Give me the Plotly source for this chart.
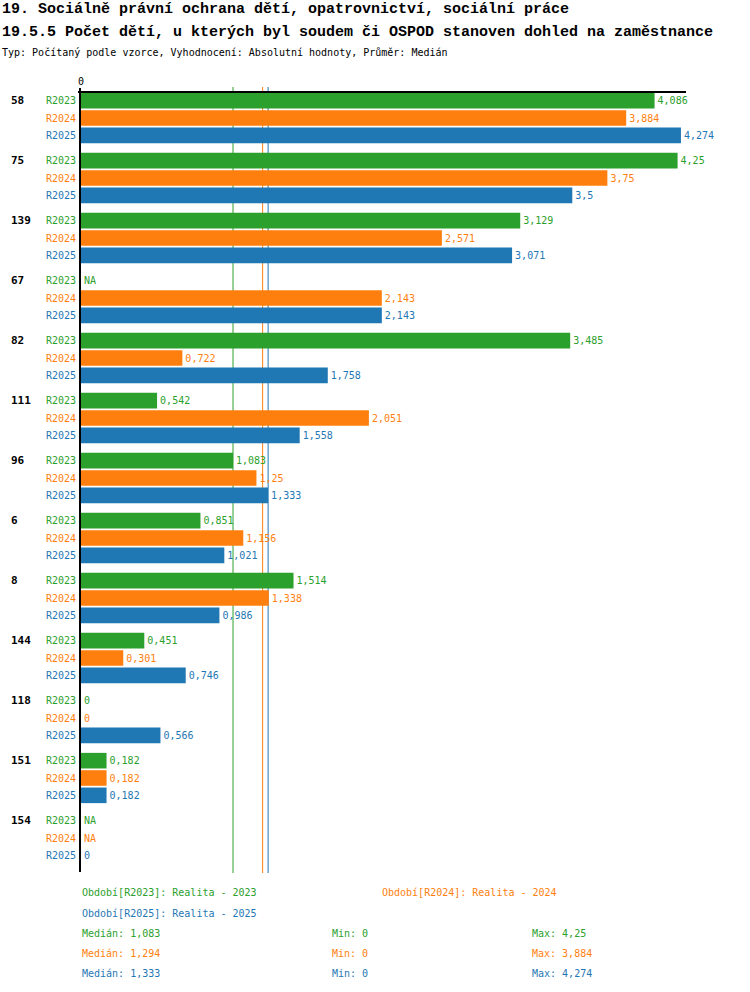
import numpy as np
import plotly.graph_objects as go

# data
categories = ["58", "75", "139", "67", "82", "111", "96", "6", "8", "144", "118", "151", "154"]
r2023 = [4.086, 4.25, 3.129, None, 3.485, 0.542, 1.083, 0.851, 1.514, 0.451, 0, 0.182, None]
r2024 = [3.884, 3.75, 2.571, 2.143, 0.722, 2.051, 1.25, 1.156, 1.338, 0.301, 0, 0.182, None]
r2025 = [4.274, 3.5, 3.071, 2.143, 1.758, 1.558, 1.333, 1.021, 0.986, 0.746, 0.566, 0.182, 0]
series_names = ["R2023", "R2024", "R2025"]
series_desc = ["Realita - 2023", "Realita - 2024", "Realita - 2025"]
colors = ["#2ca02c", "#ff7f0e", "#1f77b4"]

title1 = "19. Sociálně právní ochrana dětí, opatrovnictví, sociální práce"
title2 = "19.5.5 Počet dětí, u kterých byl soudem či OSPOD stanoven dohled na zaměstnance"
subtitle = "Typ: Počítaný podle vzorce, Vyhodnocení: Absolutní hodnoty, Průměr: Medián"

MONO = "DejaVu Sans Mono"
TITLE_FONT = "Liberation Mono"

# page geometry (pixels)
W, H = 750, 992
L, R = 81, 686
T, B = 88, 872


def px_y(p):
    return (B - p) / (B - T)


def px_x(p):
    return (p - L) / (R - L)


def fmt(v):
    if v is None or (isinstance(v, float) and np.isnan(v)):
        return "NA"
    return f"{round(v, 3):g}".replace(".", ",")


fig = go.Figure()
all_series = [r2023, r2024, r2025]
for name, vals, col in zip(series_names, all_series, colors):
    fig.add_trace(go.Bar(
        y=categories,
        x=[0 if v is None else v for v in vals],
        orientation="h",
        name=name,
        marker=dict(color=col, line=dict(width=0)),
        text=[fmt(v) for v in vals],
        textposition="outside",
        textfont=dict(family=MONO, size=10, color=col),
        cliponaxis=False,
        hoverinfo="skip",
    ))

shapes = []
annotations = []

# median lines (behind bars)
stats = []
for vals, col in zip(all_series, colors):
    arr = np.array([np.nan if v is None else v for v in vals], dtype=float)
    med, mn, mx = np.nanmedian(arr), np.nanmin(arr), np.nanmax(arr)
    stats.append((med, mn, mx))
    shapes.append(dict(type="line", xref="x", yref="paper", x0=med, x1=med,
                       y0=px_y(873), y1=px_y(87), layer="below",
                       line=dict(color=col, width=1)))

# top rule
shapes.append(dict(type="line", xref="paper", yref="paper", x0=px_x(78), x1=1,
                   y0=px_y(92), y1=px_y(92), line=dict(color="black", width=2)))

# left labels (category axis: position by index)
for i, cat in enumerate(categories):
    annotations.append(dict(x=px_x(9), xref="paper", y=i, yref="y", yshift=17.3,
                            text=f"<b>{cat}</b>", showarrow=False, xanchor="left",
                            yanchor="middle", font=dict(family=MONO, size=11, color="black")))
    for k, (name, col) in enumerate(zip(series_names, colors)):
        annotations.append(dict(x=px_x(78), xref="paper", y=i, yref="y",
                                yshift=17.3 * (1 - k), text=name, showarrow=False,
                                xanchor="right", yanchor="middle",
                                font=dict(family=MONO, size=10, color=col)))

# titles
for txt, yp, size, fam in [(f"<b>{title1}</b>", 10, 15, TITLE_FONT),
                           (f"<b>{title2}</b>", 32, 15, TITLE_FONT),
                           (subtitle, 52, 10, MONO)]:
    annotations.append(dict(x=px_x(0), xref="paper", y=px_y(yp), yref="paper", text=txt,
                            showarrow=False, xanchor="left", yanchor="middle",
                            font=dict(family=fam, size=size, color="black")))

# bottom legend
legend_items = [
    (80, 893, f"Období[{series_names[0]}]: {series_desc[0]}", colors[0]),
    (380, 893, f"Období[{series_names[1]}]: {series_desc[1]}", colors[1]),
    (80, 913, f"Období[{series_names[2]}]: {series_desc[2]}", colors[2]),
]
for k, (med, mn, mx) in enumerate(stats):
    yp = 933 + 20 * k
    legend_items += [
        (80, yp, f"Medián: {fmt(med)}", colors[k]),
        (330, yp, f"Min: {fmt(mn)}", colors[k]),
        (530, yp, f"Max: {fmt(mx)}", colors[k]),
    ]
for xp, yp, txt, col in legend_items:
    annotations.append(dict(x=px_x(xp), xref="paper", y=px_y(yp), yref="paper", text=txt,
                            showarrow=False, xanchor="left", yanchor="middle",
                            font=dict(family=MONO, size=10, color=col)))

fig.update_layout(
    width=W, height=H,
    margin=dict(l=L, r=W - R, t=T, b=H - B, pad=0),
    paper_bgcolor="white", plot_bgcolor="white",
    barmode="group", bargap=8 / 60, bargroupgap=0.1,
    showlegend=False,
    shapes=shapes, annotations=annotations,
    font=dict(family=MONO, size=10, color="black"),
)
fig.update_xaxes(side="top", range=[0, 4.31], tickvals=[0], ticktext=["0"],
                 showgrid=False, zeroline=False, showline=False, ticks="",
                 tickfont=dict(family=MONO, size=10, color="black"))
fig.update_yaxes(type="category", categoryorder="array", categoryarray=categories,
                 range=[12.5 + 4 / 60, -0.5], showticklabels=False, showgrid=False,
                 zeroline=False, showline=True, linecolor="black", linewidth=2, ticks="")

# the page body has a default 8px margin; drop it so the figure sits at the corner
fig.write_html("out.html", config={"displayModeBar": False},
               post_script="document.body.style.margin='0';")
